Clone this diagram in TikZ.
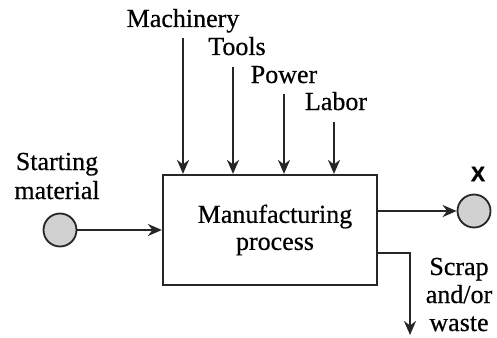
\documentclass[tikz,border=0pt]{standalone}
\usepackage{fontspec}
\setmainfont[FakeBold=0.5]{Liberation Serif}
\newfontfamily\xfont[FakeBold=1.5]{Liberation Sans Bold}
\usetikzlibrary{arrows.meta}
\begin{document}
\begin{tikzpicture}[x=1pt,y=-1pt,
  lbl/.style={font=\fontsize{26}{29}\selectfont, inner sep=0pt},
  flow/.style={line width=2.5pt, draw=black!85, -{Stealth[length=14pt,width=12pt,fill=black!75]}},
  port/.style={circle, draw=black!85, line width=1.8pt, fill=black!18, minimum size=33pt, inner sep=0pt}]
\useasboundingbox (0,0) rectangle (497,337);
% process box
\node[draw=black!85, line width=2.2pt, minimum width=214pt, minimum height=110pt, inner sep=0pt,
      font=\fontsize{26}{27}\selectfont, align=center] (proc) at (270,230) {\hspace*{10pt}Manufacturing\\\hspace*{10pt}process};
% top inputs
\node[lbl, anchor=base] (mach) at (183,27) {Machinery};
\node[lbl, anchor=base] (tools) at (237,55) {Tools};
\node[lbl, anchor=base] (power) at (284,83) {Power};
\node[lbl, anchor=base] (labor) at (336,110) {Labor};
\coordinate (m0) at (183,38);
\coordinate (t0) at (233,67);
\coordinate (p0) at (284,94);
\coordinate (l0) at (334,122);
\draw[flow] (m0) -- (m0 |- proc.north);
\draw[flow] (t0) -- (t0 |- proc.north);
\draw[flow] (p0) -- (p0 |- proc.north);
\draw[flow] (l0) -- (l0 |- proc.north);
% starting material
\node[port] (start) at (60,230) {};
\node[lbl, anchor=base, align=center] (startlbl) at (57,199) {Starting\\material};
\draw[flow] (start) -- (start -| proc.west);
% output
\node[port] (out) at (474,211) {};
\node[font=\xfont\fontsize{21}{23}\selectfont, inner sep=0pt] (xlbl) at (478,174) {X};
\draw[flow] (out -| proc.east) -- (out);
% scrap
\coordinate (scb) at (410,253);
\coordinate (sce) at (410,335);
\draw[flow] (scb -| proc.east) -- (scb) -- (sce);
\node[lbl, anchor=base, align=center, font=\fontsize{26}{28}\selectfont] (scrap) at (459,331) {Scrap\\and/or\\waste};
\end{tikzpicture}
\end{document}
